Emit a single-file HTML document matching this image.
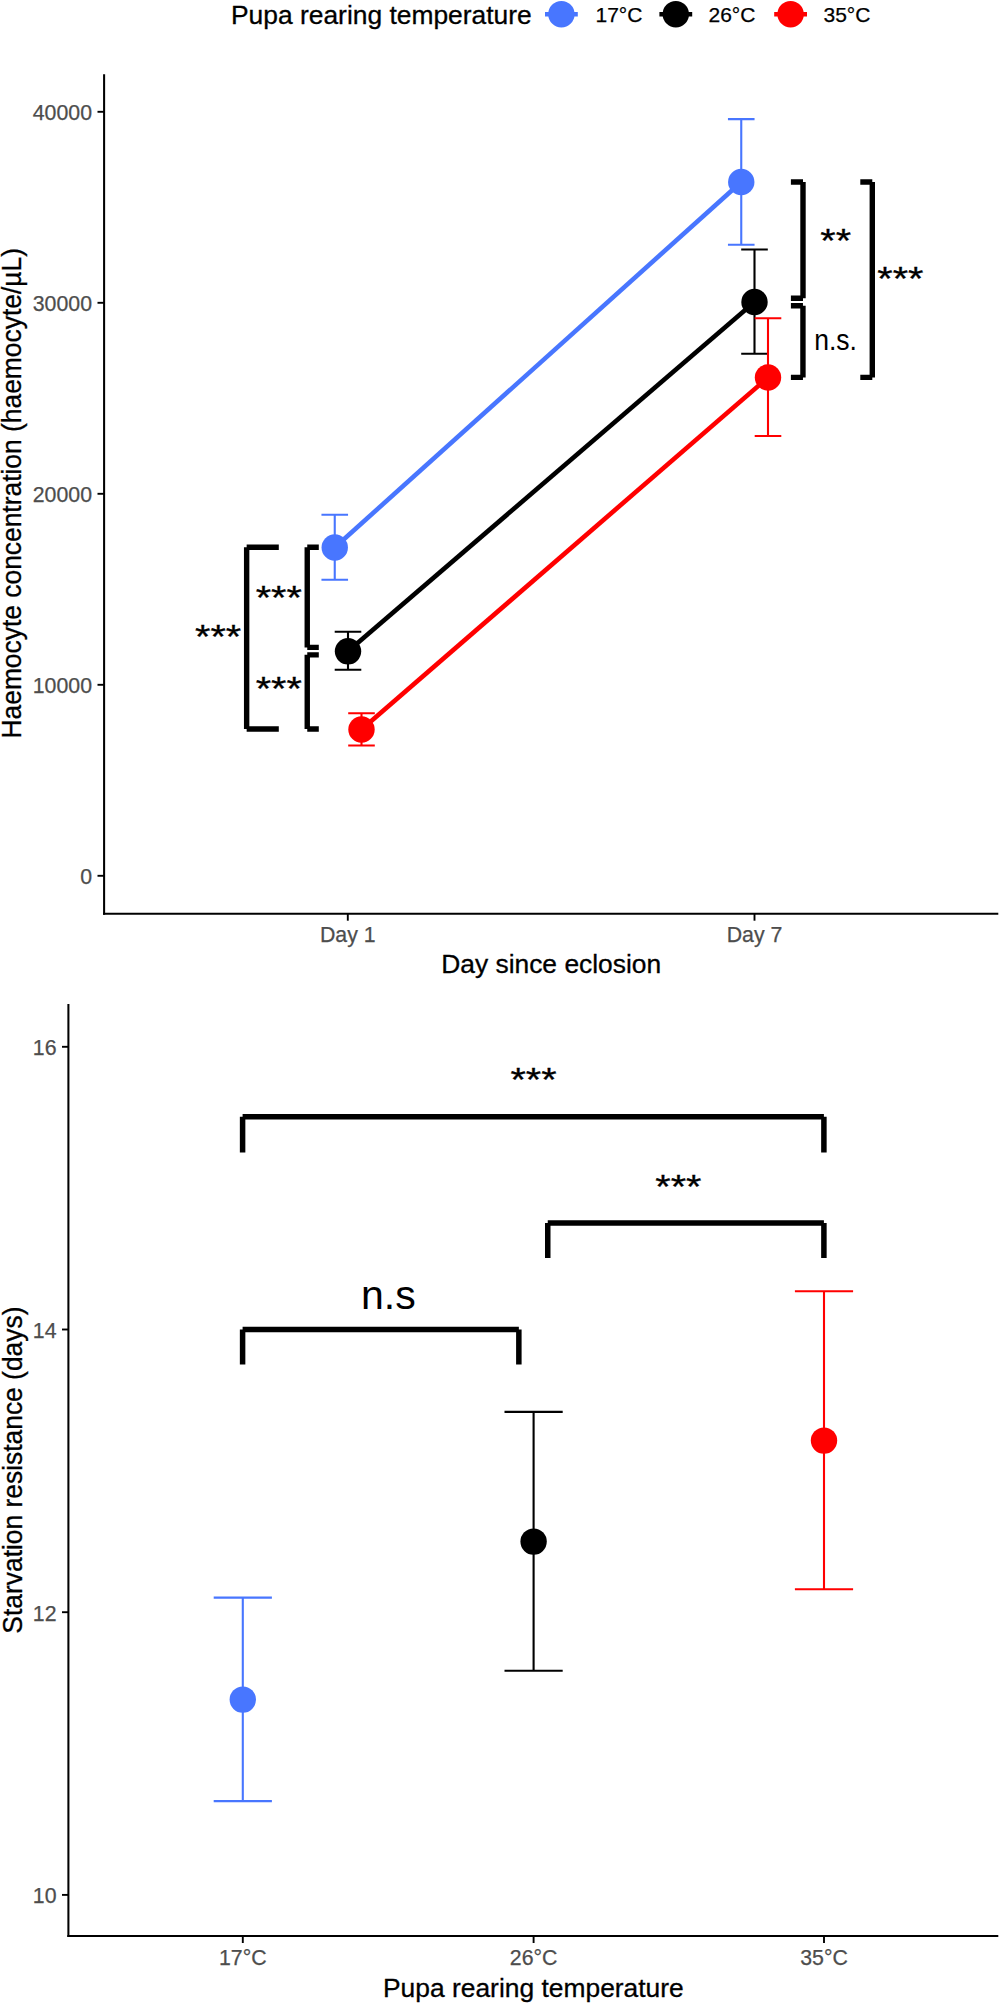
<!DOCTYPE html>
<html lang="en">
<head>
<meta charset="utf-8">
<title>Pupa rearing temperature figure</title>
<style>
html,body{margin:0;padding:0;background:#fff;}
svg{display:block;}
text{font-family:"Liberation Sans",Arial,Helvetica,sans-serif;}
.ax{fill:#4D4D4D;font-size:21.3px;stroke:#4D4D4D;stroke-width:0.25;}
.ti{fill:#000;font-size:26.4px;stroke:#000;stroke-width:0.3;}
.lg{fill:#000;font-size:21px;stroke:#000;stroke-width:0.25;}
.tk{fill:none;stroke:#000;stroke-width:1.9;stroke-linecap:butt;}
.br{fill:none;stroke:#000;stroke-width:5.4;stroke-linejoin:miter;stroke-linecap:butt;}
.br2{fill:none;stroke:#000;stroke-width:5.5;stroke-linejoin:miter;stroke-linecap:butt;}
.axl{fill:none;stroke:#000;stroke-width:2.05;stroke-linecap:butt;}
.eb{fill:none;stroke-width:2.1;stroke-linecap:butt;}
.ln{fill:none;stroke-width:4.6;stroke-linecap:butt;}
</style>
</head>
<body>
<svg width="1000" height="2003" viewBox="0 0 1000 2003">
<rect width="1000" height="2003" fill="#fff"/>
<g id="legend">
<text class="ti" x="231" y="24.4">Pupa rearing temperature</text>
<path class="ln" stroke="#4876FF" d="M545.00 14.20H577.80"/>
<circle cx="561.40" cy="14.20" r="13.20" fill="#4876FF"/>
<text class="lg" x="595.50" y="22.3">17°C</text>
<path class="ln" stroke="#000000" d="M659.40 14.20H692.20"/>
<circle cx="675.80" cy="14.20" r="13.20" fill="#000000"/>
<text class="lg" x="708.50" y="22.3">26°C</text>
<path class="ln" stroke="#FF0000" d="M774.20 14.20H807.00"/>
<circle cx="790.60" cy="14.20" r="13.20" fill="#FF0000"/>
<text class="lg" x="823.50" y="22.3">35°C</text>
</g>
<g id="chart1">
<path class="ln" stroke="#4876FF" d="M334.75 547.50L741.25 182.00"/>
<path class="ln" stroke="#000000" d="M348.00 651.30L754.50 302.00"/>
<path class="ln" stroke="#FF0000" d="M361.50 729.50L768.00 377.50"/>
<path class="eb" stroke="#4876FF" d="M321.45 514.75H348.05M321.45 579.75H348.05M334.75 514.75V579.75"/>
<path class="eb" stroke="#4876FF" d="M727.95 119.10H754.55M727.95 244.70H754.55M741.25 119.10V244.70"/>
<path class="eb" stroke="#000000" d="M334.70 631.75H361.30M334.70 669.75H361.30M348.00 631.75V669.75"/>
<path class="eb" stroke="#000000" d="M741.20 249.50H767.80M741.20 353.70H767.80M754.50 249.50V353.70"/>
<path class="eb" stroke="#FF0000" d="M348.20 713.25H374.80M348.20 745.50H374.80M361.50 713.25V745.50"/>
<path class="eb" stroke="#FF0000" d="M754.70 318.30H781.30M754.70 436.00H781.30M768.00 318.30V436.00"/>
<circle cx="334.75" cy="547.50" r="13.20" fill="#4876FF"/>
<circle cx="741.25" cy="182.00" r="13.20" fill="#4876FF"/>
<circle cx="348.00" cy="651.30" r="13.20" fill="#000000"/>
<circle cx="754.50" cy="302.00" r="13.20" fill="#000000"/>
<circle cx="361.50" cy="729.50" r="13.20" fill="#FF0000"/>
<circle cx="768.00" cy="377.50" r="13.20" fill="#FF0000"/>
<path class="br" d="M278.80 547.25H246.65M246.65 547.25V729.00M246.65 729.00H278.80"/>
<path class="br" d="M318.80 547.25H307.25M307.25 547.25V647.40M307.25 647.40H318.80"/>
<path class="br" d="M318.80 654.85H307.25M307.25 654.85V729.00M307.25 729.00H318.80"/>
<path class="br" d="M790.90 182.00H803.00M803.00 182.00V298.25M803.00 298.25H790.90"/>
<path class="br" d="M790.90 305.75H802.95M802.95 305.75V377.40M802.95 377.40H790.90"/>
<path class="br" d="M860.30 182.00H872.30M872.30 182.00V377.40M872.30 377.40H860.30"/>
<text transform="translate(218.10 648.25) scale(1.040 0.885)" font-size="38" text-anchor="middle" fill="#000" stroke="#000" stroke-width="0.35">***</text>
<text transform="translate(278.70 608.95) scale(1.040 0.885)" font-size="38" text-anchor="middle" fill="#000" stroke="#000" stroke-width="0.35">***</text>
<text transform="translate(278.70 699.75) scale(1.040 0.885)" font-size="38" text-anchor="middle" fill="#000" stroke="#000" stroke-width="0.35">***</text>
<text transform="translate(835.70 252.05) scale(1.040 0.885)" font-size="38" text-anchor="middle" fill="#000" stroke="#000" stroke-width="0.35">**</text>
<text transform="translate(900.40 289.90) scale(1.040 0.885)" font-size="38" text-anchor="middle" fill="#000" stroke="#000" stroke-width="0.35">***</text>
<text transform="translate(835.60 349.70) scale(0.915 1.000)" font-size="29" text-anchor="middle" fill="#000" stroke="#000" stroke-width="0">n.s.</text>
<path class="axl" d="M104.10 74.20V914.75"/>
<path class="axl" d="M103.05 913.70H998.30"/>
<path class="tk" d="M97.50 875.80H104.10"/>
<text class="ax" x="92" y="884.10" text-anchor="end">0</text>
<path class="tk" d="M97.50 684.80H104.10"/>
<text class="ax" x="92" y="693.10" text-anchor="end">10000</text>
<path class="tk" d="M97.50 493.80H104.10"/>
<text class="ax" x="92" y="502.10" text-anchor="end">20000</text>
<path class="tk" d="M97.50 302.80H104.10"/>
<text class="ax" x="92" y="311.10" text-anchor="end">30000</text>
<path class="tk" d="M97.50 111.80H104.10"/>
<text class="ax" x="92" y="120.10" text-anchor="end">40000</text>
<path class="tk" d="M347.80 913.70V920.70"/>
<text class="ax" x="347.80" y="942" text-anchor="middle">Day 1</text>
<path class="tk" d="M754.50 913.70V920.70"/>
<text class="ax" x="754.50" y="942" text-anchor="middle">Day 7</text>
<text class="ti" x="551.2" y="972.6" text-anchor="middle">Day since eclosion</text>
<text class="ti" transform="translate(21.2 493.3) rotate(-90) scale(1 1.055)" text-anchor="middle">Haemocyte concentration (haemocyte/µL)</text>
</g>
<g id="chart2">
<path class="eb" stroke="#4876FF" d="M213.70 1597.60H271.90M213.70 1801.10H271.90M242.80 1597.60V1801.10"/>
<path class="eb" stroke="#000000" d="M504.50 1411.90H562.70M504.50 1670.80H562.70M533.60 1411.90V1670.80"/>
<path class="eb" stroke="#FF0000" d="M794.90 1291.20H853.10M794.90 1589.20H853.10M824.00 1291.20V1589.20"/>
<circle cx="242.80" cy="1699.60" r="13.20" fill="#4876FF"/>
<circle cx="533.60" cy="1541.60" r="13.20" fill="#000000"/>
<circle cx="824.00" cy="1440.60" r="13.20" fill="#FF0000"/>
<path class="br2" d="M242.60 1152.40V1116.75M242.60 1116.75H823.90M823.90 1116.75V1152.40"/>
<path class="br2" d="M547.75 1258.10V1223.05M547.75 1223.05H823.90M823.90 1223.05V1258.10"/>
<path class="br2" d="M242.60 1364.40V1329.50M242.60 1329.50H518.85M518.85 1329.50V1364.40"/>
<text transform="translate(533.50 1091.40) scale(1.040 0.885)" font-size="38" text-anchor="middle" fill="#000" stroke="#000" stroke-width="0.35">***</text>
<text transform="translate(678.40 1197.70) scale(1.040 0.885)" font-size="38" text-anchor="middle" fill="#000" stroke="#000" stroke-width="0.35">***</text>
<text transform="translate(388.30 1309.00) scale(1.000 1.000)" font-size="41" text-anchor="middle" fill="#000" stroke="#000" stroke-width="0">n.s</text>
<path class="axl" d="M68.40 1004.00V1937.05"/>
<path class="axl" d="M67.35 1936.00H998.30"/>
<path class="tk" d="M62.00 1894.90H68.40"/>
<text class="ax" x="56.5" y="1903.20" text-anchor="end">10</text>
<path class="tk" d="M62.00 1612.20H68.40"/>
<text class="ax" x="56.5" y="1620.50" text-anchor="end">12</text>
<path class="tk" d="M62.00 1329.50H68.40"/>
<text class="ax" x="56.5" y="1337.80" text-anchor="end">14</text>
<path class="tk" d="M62.00 1046.80H68.40"/>
<text class="ax" x="56.5" y="1055.10" text-anchor="end">16</text>
<path class="tk" d="M242.80 1936.00V1943.00"/>
<text class="ax" x="242.80" y="1965.2" text-anchor="middle">17°C</text>
<path class="tk" d="M533.60 1936.00V1943.00"/>
<text class="ax" x="533.60" y="1965.2" text-anchor="middle">26°C</text>
<path class="tk" d="M824.00 1936.00V1943.00"/>
<text class="ax" x="824.00" y="1965.2" text-anchor="middle">35°C</text>
<text class="ti" x="533.4" y="1996.7" text-anchor="middle">Pupa rearing temperature</text>
<text class="ti" transform="translate(21.7 1470.1) rotate(-90) scale(1 1.055)" text-anchor="middle">Starvation resistance (days)</text>
</g>
</svg>
</body>
</html>
